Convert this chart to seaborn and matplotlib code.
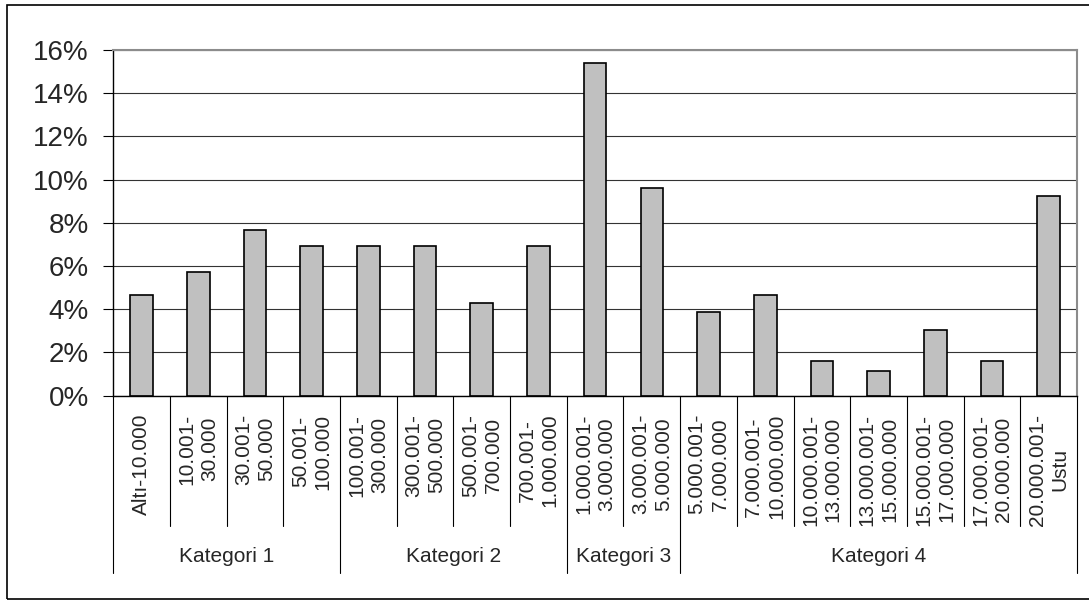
import numpy as np
import pandas as pd
import matplotlib
matplotlib.use('Agg')
from matplotlib import pyplot as plt
from matplotlib.ticker import PercentFormatter
from matplotlib.patches import Rectangle
import seaborn as sns

sns.set_style('white')
plt.rcParams['font.family'] = ['Liberation Sans', 'DejaVu Sans']

# data
categories = ['Altı-10.000', '10.001-\n30.000', '30.001-\n50.000', '50.001-\n100.000',
              '100.001-\n300.000', '300.001-\n500.000', '500.001-\n700.000', '700.001-\n1.000.000',
              '1.000.001-\n3.000.000', '3.000.001-\n5.000.000',
              '5.000.001-\n7.000.000', '7.000.001-\n10.000.000', '10.000.001-\n13.000.000',
              '13.000.001-\n15.000.000', '15.000.001-\n17.000.000', '17.000.001-\n20.000.000',
              '20.000.001-\nUstu']
shares = [4.65, 5.74, 7.69, 6.94, 6.94, 6.94, 4.27, 6.94, 15.40, 9.63,
          3.89, 4.65, 1.59, 1.14, 3.06, 1.59, 9.26]
groups = ['Kategori 1', 'Kategori 2', 'Kategori 3', 'Kategori 4']
group_sizes = [4, 4, 2, 7]
y_ticks = [0, 2, 4, 6, 8, 10, 12, 14, 16]

df = pd.DataFrame({'aralik': categories, 'oran': np.array(shares) / 100})

W, H = 1089, 601
fig = plt.figure(figsize=(W / 100, H / 100), dpi=100)
ax = fig.add_axes([113.3 / W, 205.3 / H, (1077 - 113.3) / W, 345.7 / H])

sns.barplot(data=df, x='aralik', y='oran', color='#c0c0c0', saturation=1,
            width=0.4, edgecolor='black', linewidth=1.2, ax=ax)

n = len(categories)
ax.set_ylim(0, 0.16)
ax.set_yticks(np.array(y_ticks) / 100)
ax.yaxis.set_major_formatter(PercentFormatter(1.0, decimals=0))
ax.grid(axis='y', color='#333333', lw=0.8)
ax.set_axisbelow(True)
ax.set_xlabel('')
ax.set_ylabel('')
ax.tick_params(axis='x', length=0, labelbottom=False)
ax.tick_params(axis='y', direction='out', left=True, length=7, width=0.8,
               color='black', labelsize=20, pad=10.5)

for side in ['top', 'right']:
    ax.spines[side].set_color('#8c8c8c')
    ax.spines[side].set_linewidth(1.5)
for side in ['left', 'bottom']:
    ax.spines[side].set_color('black')
    ax.spines[side].set_linewidth(1)

trans = ax.get_xaxis_transform()

# category labels
for i, lab in enumerate(categories):
    ax.text(i, -0.052, lab, transform=trans, rotation=90, ha='center', va='top',
            multialignment='center', fontsize=15, linespacing=1.25)

# divider lines
edges = np.cumsum([0] + group_sizes)
for b in range(n + 1):
    y_end = -0.513 if b in edges else -0.377
    ax.plot([b - 0.5, b - 0.5], [0, y_end], transform=trans, color='black',
            lw=0.8, clip_on=False)

# group labels
for g, start, size in zip(groups, edges[:-1], group_sizes):
    ax.text(start - 0.5 + size / 2, -0.464, g, transform=trans, ha='center',
            va='center', fontsize=15)

ax.set_xlim(-0.5, n - 0.5)

fig.add_artist(Rectangle((7 / W, 2 / H), 1.1, 594 / H, transform=fig.transFigure,
                         fill=False, ec='black', lw=1.2))

fig.savefig('out.png', dpi=100)
